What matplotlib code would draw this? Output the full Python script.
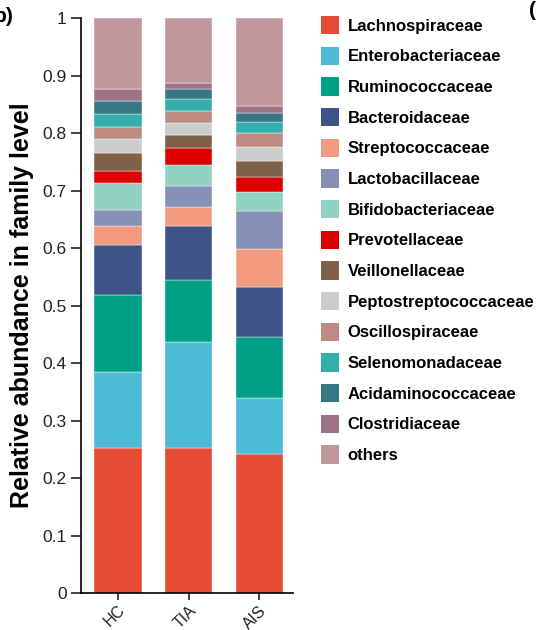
import numpy as np
import matplotlib
matplotlib.use('Agg')
import matplotlib.pyplot as plt
from matplotlib.patches import Patch

plt.rcParams['font.family'] = ['Liberation Sans', 'DejaVu Sans']

groups = ['HC', 'TIA', 'AIS']
families = ['Lachnospiraceae', 'Enterobacteriaceae', 'Ruminococcaceae', 'Bacteroidaceae',
            'Streptococcaceae', 'Lactobacillaceae', 'Bifidobacteriaceae', 'Prevotellaceae',
            'Veillonellaceae', 'Peptostreptococcaceae', 'Oscillospiraceae', 'Selenomonadaceae',
            'Acidaminococcaceae', 'Clostridiaceae', 'others']
colors = ['#E64B35', '#4DBBD5', '#00A087', '#3C5488', '#F39B7F', '#8491B4', '#91D1C2',
          '#DC0000', '#7E6148', '#CCCCCC', '#BC8B84', '#35AFAD', '#377684', '#9E7385', '#C2979B']

# abundance per family, one value per group (HC, TIA, AIS)
lachno = [0.253, 0.253, 0.242]
entero = [0.132, 0.183, 0.097]
rumino = [0.134, 0.108, 0.106]
bactero = [0.087, 0.094, 0.087]
strepto = [0.033, 0.034, 0.066]
lacto = [0.027, 0.036, 0.067]
bifido = [0.047, 0.036, 0.032]
prevo = [0.021, 0.030, 0.027]
veill = [0.032, 0.023, 0.027]
pepto = [0.024, 0.020, 0.025]
oscill = [0.021, 0.021, 0.025]
seleno = [0.023, 0.021, 0.019]
acidam = [0.022, 0.018, 0.015]
clostr = [0.021, 0.010, 0.012]
others = [0.123, 0.113, 0.153]

values = [lachno, entero, rumino, bactero, strepto, lacto, bifido, prevo,
          veill, pepto, oscill, seleno, acidam, clostr, others]

fig = plt.figure(figsize=(5.37, 6.3), dpi=100)
ax = fig.add_axes([0.151, 0.0587, 0.395, 0.9124])

x = np.arange(len(groups))
bottom = np.zeros(len(groups))
for vals, c in zip(values, colors):
    ax.bar(x, vals, width=0.67, bottom=bottom, color=c, edgecolor='white', linewidth=0.3)
    bottom += np.array(vals)

ax.set_xlim(-0.52, 2.48)
ax.set_ylim(0, 1)
ax.set_yticks(np.arange(0, 1.01, 0.1))
ax.set_yticklabels(['0'] + ['%.1f' % v for v in np.arange(0.1, 0.95, 0.1)] + ['1'], fontsize=12.5)
ax.set_xticks(x)
ax.set_xticklabels(groups, rotation=45, fontsize=11.5, ha='right', rotation_mode='anchor')
ax.spines['top'].set_visible(False)
ax.spines['right'].set_visible(False)
ax.spines['left'].set_linewidth(1.2)
ax.spines['bottom'].set_linewidth(1.2)
ax.tick_params(length=7, width=1.2, colors='#222222')
ax.tick_params(axis='x', length=5, pad=2)
ax.set_ylabel('Relative abundance in family level', fontsize=18, fontweight='bold')
ax.yaxis.set_label_coords(-0.222, 0.5)

handles = [Patch(facecolor=c, label=f) for f, c in zip(families, colors)]
fig.legend(handles=handles, loc='upper left', bbox_to_anchor=(0.585, 0.985), frameon=False,
           prop={'weight': 'bold', 'size': 12}, handlelength=1.1, handleheight=1.3,
           handletextpad=0.5, labelspacing=0.75, borderaxespad=0)

fig.text(-0.012, 0.965, 'b)', fontsize=15, fontweight='bold')
fig.text(0.985, 0.975, '(', fontsize=15, fontweight='bold')

fig.savefig('out.png', dpi=100)
